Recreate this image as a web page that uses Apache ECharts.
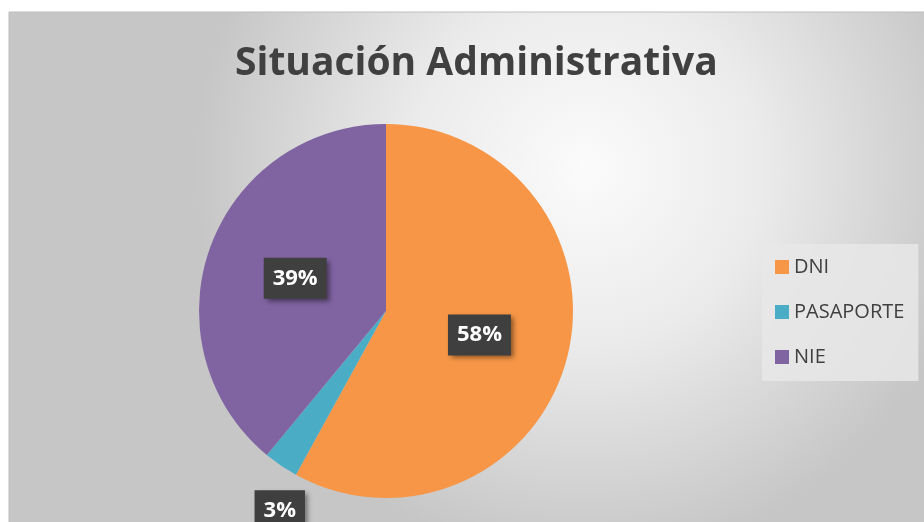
<!DOCTYPE html>
<html>
<head>
<meta charset="utf-8">
<script src="https://cdn.jsdelivr.net/npm/echarts@6/dist/echarts.min.js"></script>
<style>
  html, body { margin: 0; padding: 0; background: #fff; }
  #chart { width: 924px; height: 522px; }
</style>
</head>
<body>
<div id="chart"></div>
<script>
const categories = ['DNI', 'PASAPORTE', 'NIE']
const values = [58, 3, 39]
const colors = ['#F79646', '#4BACC6', '#8064A2']

const chart = echarts.init(document.getElementById('chart'))

const pieData = categories.map((name, i) => {
  return { name: name, value: values[i], itemStyle: { color: colors[i] } }
})

const option = {
  animation: false,
  graphic: [{
    type: 'rect',
    z: -10,
    shape: { x: 9, y: 12, width: 930, height: 520 },
    style: {
      fill: {
        type: 'radial', x: 0.62, y: 0.3, r: 0.75,
        colorStops: [
          { offset: 0, color: '#fbfbfb' },
          { offset: 0.45, color: '#ebebeb' },
          { offset: 1, color: '#c6c6c6' }
        ]
      },
      stroke: '#bdbdbd',
      lineWidth: 1
    }
  }],
  title: {
    text: 'Situación Administrativa',
    left: 230,
    top: 39,
    textStyle: {
      fontFamily: 'Open Sans',
      fontWeight: 'bold',
      fontSize: 39,
      color: '#404040'
    }
  },
  legend: {
    orient: 'vertical',
    left: 762,
    top: 244,
    padding: [13, 14, 14, 13],
    backgroundColor: 'rgba(232,232,232,0.85)',
    itemWidth: 14,
    itemHeight: 14,
    itemGap: 25,
    icon: 'rect',
    data: categories,
    textStyle: {
      fontFamily: 'Open Sans',
      fontSize: 20,
      color: '#404040'
    }
  },
  series: [{
    type: 'pie',
    center: [386, 311],
    radius: 187,
    startAngle: 90,
    clockwise: true,
    label: {
      show: true,
      position: 'inside',
      formatter: '{d}%',
      fontFamily: 'Open Sans',
      fontWeight: 'bold',
      fontSize: 22,
      color: '#ffffff',
      backgroundColor: '#3f3f3f',
      padding: [10, 9, 9, 9],
      shadowColor: 'rgba(0,0,0,0.45)',
      shadowBlur: 5,
      shadowOffsetX: 3,
      shadowOffsetY: 3
    },
    labelLine: { show: false },
    labelLayout: function (params) {
      // small slice: label pushed below the pie
      if (params.dataIndex === 1) {
        return { dx: -52, dy: 120 }
      }
      return {}
    },
    emphasis: { disabled: true },
    data: pieData
  }]
}

chart.setOption(option)
</script>
</body>
</html>
